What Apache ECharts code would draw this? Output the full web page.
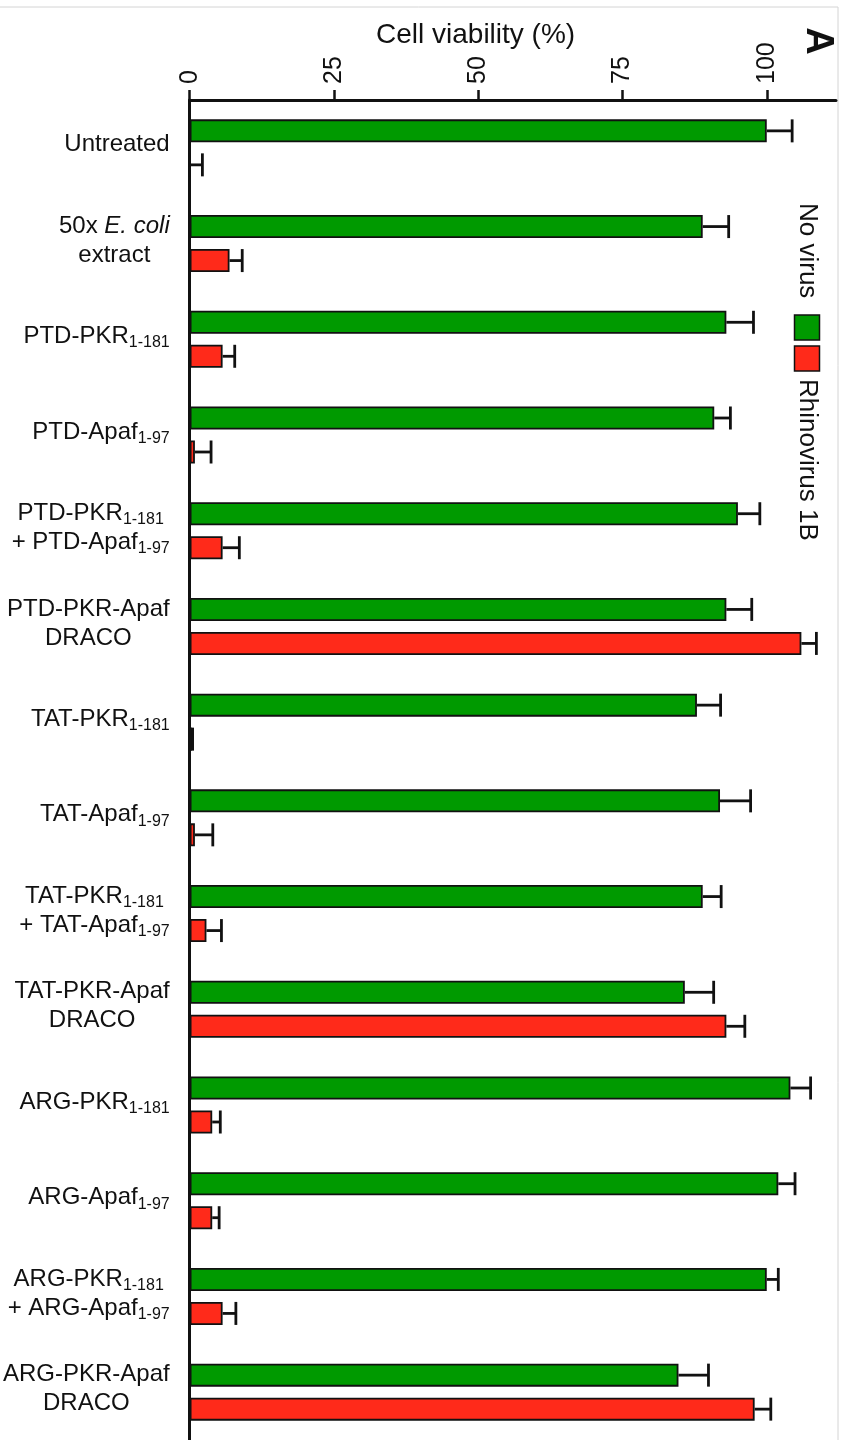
<!DOCTYPE html>
<html>
<head>
<meta charset="utf-8">
<script src="https://cdn.jsdelivr.net/npm/echarts@6/dist/echarts.min.js"></script>
<style>html,body{margin:0;padding:0;background:#fff;}#c{width:848px;height:1440px;}</style>
</head>
<body>
<div id="c"></div>
<script>
const categories = [
  '{n|Untreated}',
  '{n|50x }{i|E. coli}\n{n|extract}',
  '{n|PTD-PKR}{s|1-181}',
  '{n|PTD-Apaf}{s|1-97}',
  '{n|PTD-PKR}{s|1-181}\n{n|+ PTD-Apaf}{s|1-97}',
  '{n|PTD-PKR-Apaf}\n{n|DRACO}',
  '{n|TAT-PKR}{s|1-181}',
  '{n|TAT-Apaf}{s|1-97}',
  '{n|TAT-PKR}{s|1-181}\n{n|+ TAT-Apaf}{s|1-97}',
  '{n|TAT-PKR-Apaf}\n{n|DRACO}',
  '{n|ARG-PKR}{s|1-181}',
  '{n|ARG-Apaf}{s|1-97}',
  '{n|ARG-PKR}{s|1-181}\n{n|+ ARG-Apaf}{s|1-97}',
  '{n|ARG-PKR-Apaf}\n{n|DRACO}'
];
const noVirus      = [100.0, 88.9, 93.0, 90.9, 95.0, 93.0, 87.9, 91.9, 88.9, 85.8, 104.1, 102.0, 100.0, 84.7];
const noVirusErr   = [4.4, 4.5, 4.7, 2.8, 3.8, 4.4, 4.1, 5.3, 3.2, 5.0, 3.5, 2.9, 2.0, 5.2];
const rhinovirus   = [0.0, 6.9, 5.7, 0.9, 5.7, 106.0, 0.4, 0.9, 2.9, 93.0, 3.9, 3.9, 5.7, 97.9];
const rhinoErr     = [2.2, 2.2, 2.1, 2.8, 2.9, 2.6, 0.1, 3.1, 2.6, 3.2, 1.4, 1.2, 2.3, 2.8];
const tickValues   = [0, 25, 50, 75, 100];
const seriesNames  = ['No virus', 'Rhinovirus 1B'];

const FONT = '"Liberation Sans", Arial, Helvetica, sans-serif';
const GREEN = '#009a00', RED = '#ff2a1a', INK = '#111';
const BAR_W = 23, GAP = 11;

function errRender(offset) {
  return function (params, api) {
    const ci = api.value(0), v = api.value(1), e = api.value(2);
    const p0 = api.coord([v, ci]);
    const p1 = api.coord([v + e, ci]);
    const y = p0[1] + offset;
    const h = 11.5;
    return {
      type: 'group',
      children: [
        { type: 'line', shape: { x1: p0[0], y1: y, x2: p1[0], y2: y }, style: { stroke: INK, lineWidth: 2.8 } },
        { type: 'line', shape: { x1: p1[0], y1: y - h, x2: p1[0], y2: y + h }, style: { stroke: INK, lineWidth: 2.8 } }
      ]
    };
  };
}

const chart = echarts.init(document.getElementById('c'), null, { renderer: 'canvas' });
const off = (BAR_W + GAP) / 2;

chart.setOption({
  animation: false,
  backgroundColor: '#fff',
  textStyle: { fontFamily: FONT },
  title: {
    text: 'Cell viability (%)',
    left: 371, top: 16,
    textStyle: { fontFamily: FONT, fontSize: 28, fontWeight: 'normal', color: INK }
  },
  grid: { left: 189, right: 12, top: 100, bottom: 0, containLabel: false },
  xAxis: {
    type: 'value', position: 'top', min: 0, max: 112, interval: 25,
    axisLine: { show: true, lineStyle: { color: INK, width: 3 } },
    axisTick: { show: true, length: 10, inside: false, lineStyle: { color: INK, width: 2.5 }, customValues: tickValues },
    axisLabel: { rotate: -90, margin: 16, fontSize: 25, color: INK, fontFamily: FONT, customValues: tickValues },
    splitLine: { show: false }
  },
  yAxis: {
    type: 'category', inverse: true, data: categories,
    axisLine: { show: true, lineStyle: { color: INK, width: 3 } },
    axisTick: { show: false },
    axisLabel: {
      margin: 20, color: INK, fontFamily: FONT, fontSize: 24, lineHeight: 29,
      padding: [0, 0, 6, 0],
      rich: {
        n: { fontSize: 24, fontFamily: FONT, color: INK, align: 'center', lineHeight: 29, verticalAlign: 'middle' },
        i: { fontSize: 24, fontFamily: FONT, color: INK, fontStyle: 'italic', align: 'center', lineHeight: 29, verticalAlign: 'middle' },
        s: { fontSize: 16, fontFamily: FONT, color: INK, align: 'center', lineHeight: 29, verticalAlign: 'bottom' }
      }
    },
    splitLine: { show: false }
  },
  series: [
    {
      name: seriesNames[0], type: 'bar', data: noVirus, barWidth: BAR_W, barGap: (GAP / BAR_W * 100) + '%',
      itemStyle: { color: GREEN, borderColor: INK, borderWidth: 1.8 }
    },
    {
      name: seriesNames[1], type: 'bar', data: rhinovirus, barWidth: BAR_W,
      itemStyle: { color: RED, borderColor: INK, borderWidth: 1.8 }
    },
    {
      type: 'custom', coordinateSystem: 'cartesian2d', z: 5,
      data: noVirus.map((v, i) => [i, v, noVirusErr[i]]),
      encode: { x: 1, y: 0 },
      renderItem: errRender(-off)
    },
    {
      type: 'custom', coordinateSystem: 'cartesian2d', z: 5,
      data: rhinovirus.map((v, i) => [i, v, rhinoErr[i]]),
      encode: { x: 1, y: 0 },
      renderItem: errRender(off)
    }
  ],
  graphic: [
    {
      type: 'rect', silent: true, z: -1,
      shape: { x: -2, y: 7, width: 840, height: 1440 },
      style: { fill: 'none', stroke: '#d4d4d4', lineWidth: 1 }
    },
    {
      type: 'text', x: 817, y: 41, rotation: -Math.PI / 2,
      style: { text: 'A', fontFamily: FONT, fontSize: 38, fontWeight: 'bold', fill: INK, align: 'center', verticalAlign: 'middle' }
    },
    {
      type: 'group', x: 807, y: 203, rotation: -Math.PI / 2,
      children: [
        { type: 'text', x: 0, y: 0, style: { text: seriesNames[0], fontFamily: FONT, fontSize: 26, fill: INK, align: 'left', verticalAlign: 'middle' } },
        { type: 'rect', shape: { x: 112, y: -12.5, width: 25, height: 25 }, style: { fill: GREEN, stroke: INK, lineWidth: 1.5 } },
        { type: 'rect', shape: { x: 143, y: -12.5, width: 25, height: 25 }, style: { fill: RED, stroke: INK, lineWidth: 1.5 } },
        { type: 'text', x: 176, y: 0, style: { text: seriesNames[1], fontFamily: FONT, fontSize: 26, fill: INK, align: 'left', verticalAlign: 'middle' } }
      ]
    }
  ]
});
</script>
</body>
</html>
